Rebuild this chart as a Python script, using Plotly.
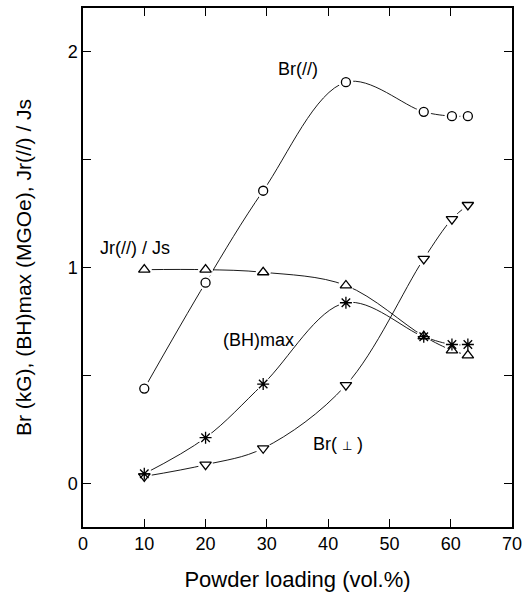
import plotly.graph_objects as go

# Powder loading (vol.%) for every sample
loading = [10, 20, 29.4, 42.9, 55.6, 60.2, 62.8]

# Measured properties per loading
br_parallel = [0.44, 0.93, 1.355, 1.857, 1.72, 1.70, 1.70]      # Br(//), kG
jr_over_js = [0.99, 0.99, 0.978, 0.917, 0.682, 0.617, 0.594]    # Jr(//) / Js
bh_max = [0.046, 0.213, 0.461, 0.837, 0.68, 0.644, 0.644]       # (BH)max, MGOe
br_perp = [0.034, 0.088, 0.164, 0.456, 1.04, 1.224, 1.289]      # Br(perp), kG

x_ticks = [0, 10, 20, 30, 40, 50, 60, 70]
y_ticks = [0, 0.5, 1, 1.5, 2]
y_tick_text = ["0", "", "1", "", "2"]

FONT = "Liberation Sans, Arial, sans-serif"

series = [
    (br_parallel, "circle-open", 9),
    (jr_over_js, "triangle-up-open", 10),
    (bh_max, "asterisk-open", 10),
    (br_perp, "triangle-down-open", 10),
]

fig = go.Figure()

# smooth connecting curves
for ys, _, _ in series:
    fig.add_trace(go.Scatter(
        x=loading, y=ys, mode="lines",
        line=dict(color="black", width=0.9, shape="spline", smoothing=1),
        hoverinfo="skip", showlegend=False,
    ))

# white discs so the curves stop short of each symbol
for ys, _, _ in series:
    fig.add_trace(go.Scatter(
        x=loading, y=ys, mode="markers",
        marker=dict(symbol="circle", size=15, color="white", line=dict(width=0)),
        hoverinfo="skip", showlegend=False,
    ))

# data symbols
for ys, sym, sz in series:
    fig.add_trace(go.Scatter(
        x=loading, y=ys, mode="markers",
        marker=dict(symbol=sym, size=sz, color="black",
                    line=dict(color="black", width=1.3)),
        showlegend=False,
    ))

labels = [
    (35.0, 1.92, "Br(//)"),
    (8.56, 1.092, "Jr(//) / Js"),
    (28.66, 0.664, "(BH)max"),
    (41.6, 0.184, "Br( <span style='font-size:12px'>⊥</span> )"),
]
for lx, ly, txt in labels:
    fig.add_annotation(x=lx, y=ly, text=txt, showarrow=False,
                       font=dict(family=FONT, size=18, color="black"))

axis_common = dict(
    showline=True, linecolor="black", linewidth=1.5, mirror="ticks",
    ticks="inside", ticklen=8, tickwidth=1.2, tickcolor="black",
    showgrid=False, zeroline=False,
    tickfont=dict(family=FONT, size=18, color="black"),
)

fig.update_xaxes(
    range=[0, 70], tickvals=x_ticks,
    title=dict(text="Powder loading (vol.%)", font=dict(family=FONT, size=22, color="black"),
               standoff=18),
    **axis_common,
)
fig.update_yaxes(
    range=[-0.2, 2.2], tickvals=y_ticks, ticktext=y_tick_text,
    title=dict(text="Br (kG), (BH)max (MGOe), Jr(//) / Js",
               font=dict(family=FONT, size=21, color="black"), standoff=30),
    **axis_common,
)

fig.update_layout(
    width=531, height=595,
    margin=dict(l=83, r=19, t=6, b=68),
    paper_bgcolor="white", plot_bgcolor="white",
)

fig.write_html("out.html")
